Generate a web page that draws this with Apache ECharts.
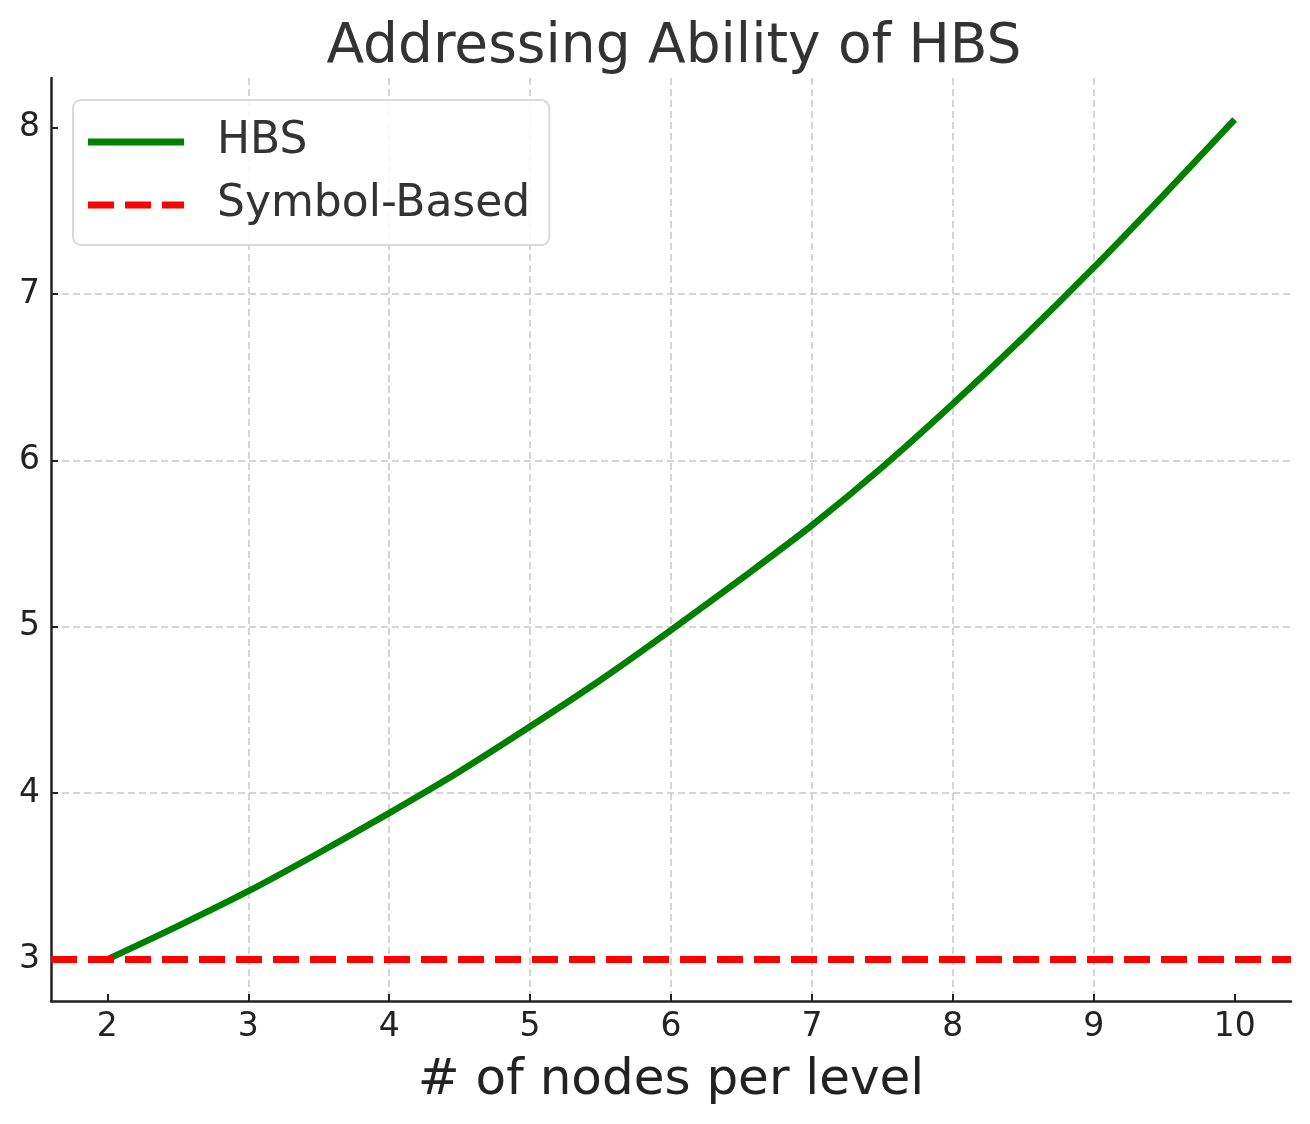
<!DOCTYPE html>
<html>
<head>
<meta charset="utf-8">
<script src="https://cdn.jsdelivr.net/npm/echarts@6/dist/echarts.min.js"></script>
<style>
  html, body { margin: 0; padding: 0; background: #fff; }
  #chart { width: 1310px; height: 1124px; }
</style>
</head>
<body>
<div id="chart"></div>
<script>
// values
const nodesPerLevel = [2, 2.5, 3, 3.5, 4, 4.5, 5, 5.5, 6, 6.5, 7, 7.5, 8, 8.5, 9, 9.5, 10];
const hbsValues = [3.00, 3.20, 3.41, 3.64, 3.88, 4.13, 4.40, 4.68, 4.98, 5.29, 5.61, 5.96, 6.34, 6.74, 7.16, 7.60, 8.05];
const symbolBasedValue = 3;
const xTicks = [2, 3, 4, 5, 6, 7, 8, 9, 10];
const yTicks = [3, 4, 5, 6, 7, 8];

const font = 'DejaVu Sans';
const chart = echarts.init(document.getElementById('chart'), null, { renderer: 'canvas' });

const hbsData = nodesPerLevel.map((x, i) => [x, hbsValues[i]]);

const gridLine = {
  show: true,
  showMinLine: false,
  showMaxLine: false,
  lineStyle: { color: '#c8c8c8', width: 1.5, type: [7, 4] }
};

// legend keys drawn as a solid bar and a dashed bar
const solidKey = 'path://M0,0h96v7h-96z';
const dashedKey = 'path://M0,0h26v7h-26zM37,0h26v7h-26zM74,0h22v7h-22z';

const option = {
  animation: false,
  backgroundColor: '#fff',
  title: {
    text: 'Addressing Ability of HBS',
    left: 669,
    textAlign: 'center',
    top: 15,
    textStyle: { fontFamily: font, fontSize: 55, fontWeight: 'normal', color: '#333' }
  },
  legend: {
    orient: 'vertical',
    left: 73,
    top: 100,
    data: [
      { name: 'HBS', icon: solidKey },
      { name: 'Symbol-Based', icon: dashedKey }
    ],
    itemWidth: 96,
    itemHeight: 7,
    itemGap: 19,
    padding: [20, 19, 18, 15],
    borderColor: '#d9d9d9',
    borderWidth: 2,
    borderRadius: 8,
    backgroundColor: 'rgba(255,255,255,0.85)',
    textStyle: { fontFamily: font, fontSize: 44, color: '#333', padding: [0, 0, 0, 28] }
  },
  grid: { left: 51, right: 19, top: 78, bottom: 123, containLabel: false },
  xAxis: {
    type: 'value',
    min: 1.6,
    max: 10.4,
    interval: 1,
    name: '# of nodes per level',
    nameLocation: 'middle',
    nameGap: 55,
    nameTextStyle: { fontFamily: font, fontSize: 50, color: '#222' },
    axisLine: { lineStyle: { color: '#222', width: 2.5 } },
    axisTick: { show: true, inside: true, length: 7, customValues: xTicks, lineStyle: { color: '#222', width: 2 } },
    axisLabel: { fontFamily: font, fontSize: 33, color: '#222', margin: 10, customValues: xTicks },
    splitLine: gridLine
  },
  yAxis: {
    type: 'value',
    min: 2.75,
    max: 8.3,
    interval: 1,
    axisLine: { show: true, lineStyle: { color: '#222', width: 2.5 } },
    axisTick: { show: true, inside: true, length: 7, customValues: yTicks, lineStyle: { color: '#222', width: 2 } },
    axisLabel: { fontFamily: font, fontSize: 33, color: '#222', margin: 11, padding: [8, 0, 0, 0], customValues: yTicks },
    splitLine: gridLine
  },
  series: [
    {
      name: 'HBS',
      type: 'line',
      data: hbsData,
      smooth: 0.3,
      showSymbol: false,
      symbol: 'none',
      lineStyle: { color: '#008000', width: 6.5 },
      itemStyle: { color: '#008000' },
      z: 3
    },
    {
      name: 'Symbol-Based',
      type: 'line',
      data: [],
      showSymbol: false,
      symbol: 'none',
      lineStyle: { color: '#ff0000', width: 7, type: [26, 11] },
      itemStyle: { color: '#ff0000' },
      z: 4,
      markLine: {
        silent: true,
        symbol: 'none',
        label: { show: false },
        lineStyle: { color: '#ff0000', width: 7, type: [26, 11] },
        data: [{ yAxis: symbolBasedValue }]
      }
    }
  ]
};

chart.setOption(option);
</script>
</body>
</html>
